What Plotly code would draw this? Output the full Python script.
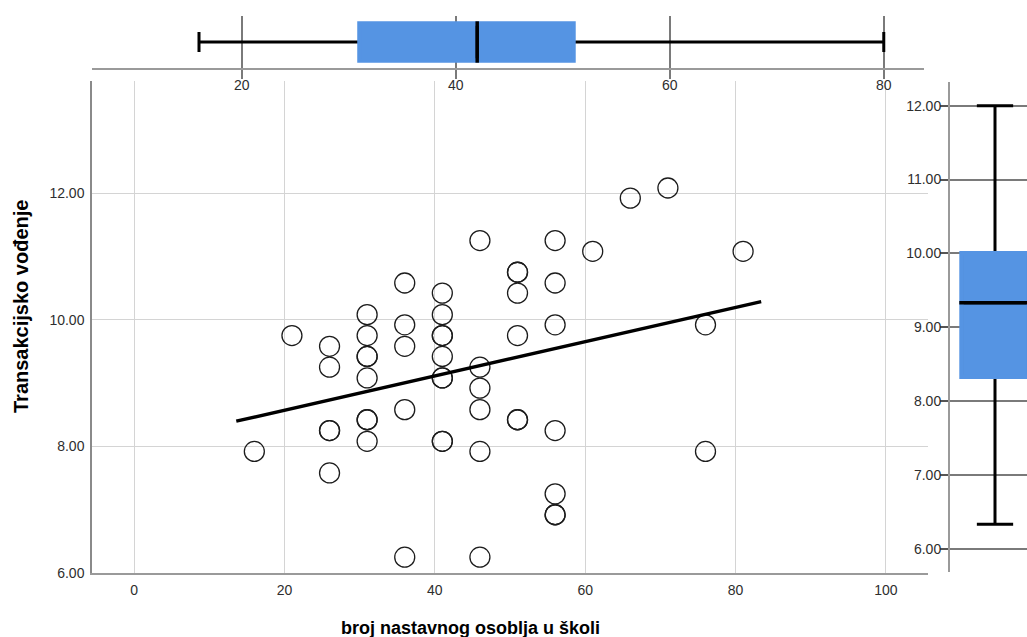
import numpy as np
import plotly.graph_objects as go

# Number of teaching staff per school and the "transactional leadership" score
staff = [16, 21,
         26, 26, 26, 26, 26,
         31, 31, 31, 31, 31, 31, 31, 31,
         36, 36, 36, 36, 36,
         41, 41, 41, 41, 41, 41, 41, 41, 41,
         46, 46, 46, 46, 46, 46,
         51, 51, 51, 51, 51, 51,
         56, 56, 56, 56, 56, 56, 56,
         61, 66, 71, 76, 76, 81]
trans = [7.92, 9.75,
         9.58, 9.25, 8.25, 8.25, 7.58,
         10.08, 9.75, 9.42, 9.42, 9.08, 8.42, 8.42, 8.08,
         10.58, 9.92, 9.58, 8.58, 6.25,
         10.42, 10.08, 9.75, 9.75, 9.42, 9.08, 9.08, 8.08, 8.08,
         11.25, 9.25, 8.92, 8.58, 7.92, 6.25,
         10.75, 10.75, 10.42, 9.75, 8.42, 8.42,
         11.25, 10.58, 9.92, 8.25, 7.25, 6.92, 6.92,
         11.08, 11.92, 12.08, 9.92, 7.92, 11.08]

# Marginal box-plot statistics: [min, Q1, median, Q3, max]
staff_box = [16, 31, 42, 51, 80]
trans_box = [6.33, 8.33, 9.33, 10.00, 12.00]

main_x_ticks = [0, 20, 40, 60, 80, 100]
main_y_ticks = [6, 8, 10, 12]
top_x_ticks = [20, 40, 60, 80]
side_y_ticks = [6, 7, 8, 9, 10, 11, 12]

x_title = "broj nastavnog osoblja u školi"
y_title = "Transakcijsko vođenje"

FONT = "Liberation Sans, Arial, sans-serif"
BOX_BLUE = "#5594E3"
GRID_LIGHT = "#d4d4d4"
GRID_DARK = "#7a7a7a"
AXIS_GRAY = "#9a9a9a"
TICK_FONT = dict(family=FONT, size=14, color="#2e2e2e")

W, H = 1027, 637

def px_x(p):
    return p / W

def px_y(p):
    return 1 - p / H

fig = go.Figure()

# Scatter of observations
fig.add_trace(go.Scatter(
    x=staff, y=trans, mode="markers",
    marker=dict(symbol="circle", size=20, color="rgba(0,0,0,0)",
                line=dict(color="#1c1c1c", width=1.3)),
    xaxis="x", yaxis="y", showlegend=False, hoverinfo="x+y"))

# Linear fit line
slope, intercept = np.polyfit(staff, trans, 1)
span = max(staff) - min(staff)
fit_x = np.array([min(staff) - 0.037 * span, max(staff) + 0.037 * span])
fit_y = intercept + slope * fit_x
fig.add_trace(go.Scatter(
    x=fit_x, y=fit_y, mode="lines",
    line=dict(color="black", width=3.4),
    xaxis="x", yaxis="y", showlegend=False, hoverinfo="skip"))

# Box widths (axis units equal pixels on the box axes)
COVER = 4.5
top_bw = 41.4 - COVER
side_bw = 71.4 - COVER
LW = 3

# Top marginal box plot (horizontal)
fig.add_trace(go.Box(
    orientation="h", y=[0],
    lowerfence=[staff_box[0]], q1=[staff_box[1]], median=[staff_box[2]],
    q3=[staff_box[3]], upperfence=[staff_box[4]],
    width=top_bw, whiskerwidth=20 / top_bw,
    fillcolor=BOX_BLUE, line=dict(color="black", width=LW),
    xaxis="x2", yaxis="y2", showlegend=False, boxpoints=False))

# Right marginal box plot (vertical)
fig.add_trace(go.Box(
    x=[0],
    lowerfence=[trans_box[0]], q1=[trans_box[1]], median=[trans_box[2]],
    q3=[trans_box[3]], upperfence=[trans_box[4]],
    width=side_bw, whiskerwidth=36.3 / side_bw,
    fillcolor=BOX_BLUE, line=dict(color="black", width=LW),
    xaxis="x3", yaxis="y3", showlegend=False, boxpoints=False))

shapes = [
    # box bodies without a dark outline
    dict(type="rect", xref="x2", yref="y2",
         x0=staff_box[1], x1=staff_box[3], y0=-top_bw / 2, y1=top_bw / 2,
         line=dict(color=BOX_BLUE, width=COVER), fillcolor="rgba(0,0,0,0)",
         layer="above"),
    dict(type="line", xref="x2", yref="y2",
         x0=staff_box[2], x1=staff_box[2],
         y0=-top_bw / 2 - COVER / 2, y1=top_bw / 2 + COVER / 2,
         line=dict(color="black", width=3.5), layer="above"),
    dict(type="rect", xref="x3", yref="y3",
         x0=-side_bw / 2, x1=side_bw / 2, y0=trans_box[1], y1=trans_box[3],
         line=dict(color=BOX_BLUE, width=COVER), fillcolor="rgba(0,0,0,0)",
         layer="above"),
    dict(type="line", xref="x3", yref="y3",
         x0=-side_bw / 2 - COVER / 2, x1=side_bw / 2 + COVER / 2,
         y0=trans_box[2], y1=trans_box[2],
         line=dict(color="black", width=3.5), layer="above"),
]

annotations = [
    dict(text=f"<b>{y_title}</b>", xref="paper", yref="paper",
         x=px_x(20.5), y=px_y(306.5), textangle=-90, showarrow=False,
         xanchor="center", yanchor="middle",
         font=dict(family=FONT, size=20, color="black")),
    dict(text=f"<b>{x_title}</b>", xref="paper", yref="paper",
         x=px_x(470.5), y=px_y(628), showarrow=False,
         xanchor="center", yanchor="middle",
         font=dict(family=FONT, size=18, color="black")),
]

fig.update_layout(
    width=W, height=H,
    margin=dict(l=0, r=0, t=0, b=0, pad=0, autoexpand=False),
    paper_bgcolor="white", plot_bgcolor="white",
    showlegend=False,
    shapes=shapes, annotations=annotations,
    xaxis=dict(domain=[px_x(92), px_x(928)], range=[-5.59, 105.59],
               anchor="y", tickvals=main_x_ticks, ticks="", automargin=False,
               showgrid=True, gridcolor=GRID_LIGHT, gridwidth=1,
               zeroline=False, showline=True, linecolor=AXIS_GRAY, linewidth=2,
               tickfont=TICK_FONT, ticklabelstandoff=3),
    yaxis=dict(domain=[px_y(573), px_y(81)], range=[6, 13.77],
               anchor="x", tickvals=main_y_ticks, tickformat=".2f", ticks="",
               automargin=False,
               showgrid=True, gridcolor=GRID_LIGHT, gridwidth=1,
               zeroline=False, showline=True, linecolor="#8a8a8a", linewidth=1.5,
               tickfont=TICK_FONT, ticklabelstandoff=3),
    xaxis2=dict(domain=[px_x(92), px_x(924)], range=[6.0, 83.76],
                anchor="y2", tickvals=top_x_ticks, automargin=False,
                ticks="outside", ticklen=9, tickcolor=GRID_DARK, tickwidth=1.5,
                showgrid=True, gridcolor=GRID_DARK, gridwidth=1.5,
                zeroline=False, showline=True, linecolor=AXIS_GRAY, linewidth=2,
                tickfont=TICK_FONT, ticklabelstandoff=-6),
    yaxis2=dict(domain=[px_y(68), px_y(16)], range=[-26, 26],
                anchor="x2", visible=False, automargin=False),
    xaxis3=dict(domain=[px_x(950), 1.0], range=[-45, 32],
                anchor="y3", visible=False, automargin=False),
    yaxis3=dict(domain=[px_y(572.3), px_y(81.7)], range=[5.68, 12.325],
                anchor="x3", tickvals=side_y_ticks, tickformat=".2f",
                automargin=False,
                ticks="outside", ticklen=8, tickcolor="#555555", tickwidth=1.5,
                showgrid=True, gridcolor=GRID_DARK, gridwidth=1.5,
                zeroline=False, showline=True, linecolor=AXIS_GRAY, linewidth=2,
                tickfont=TICK_FONT, ticklabelstandoff=-4),
)

fig.write_html("out.html")
